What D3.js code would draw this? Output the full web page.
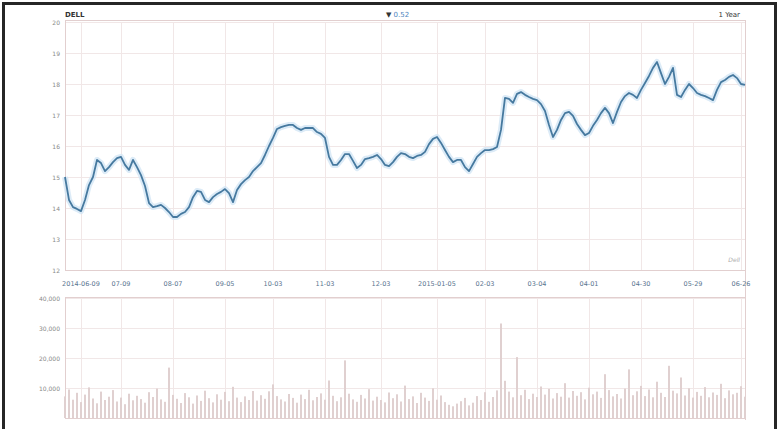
<!DOCTYPE html>
<html><head><meta charset="utf-8">
<script src="https://cdn.jsdelivr.net/npm/d3@7"></script>
<style>body{margin:0;background:#fff}svg{display:block;font-family:"DejaVu Sans",sans-serif}</style>
</head><body><svg id="c" width="780" height="429"></svg>
<script>
const ticker = "DELL";
const changeText = "0.52";
const rangeText = "1 Year";
const prices = [15.00,14.26,14.03,13.97,13.90,14.26,14.74,15.00,15.55,15.45,15.19,15.32,15.48,15.61,15.65,15.39,15.23,15.55,15.32,15.06,
14.71,14.16,14.03,14.06,14.10,14.00,13.87,13.71,13.71,13.81,13.87,14.03,14.35,14.55,14.52,14.26,14.19,14.35,14.45,14.52,
14.61,14.48,14.19,14.58,14.77,14.90,15.00,15.19,15.32,15.45,15.71,16.00,16.26,16.55,16.61,16.65,16.68,16.68,16.58,16.52,
16.58,16.58,16.58,16.45,16.39,16.26,15.65,15.39,15.39,15.55,15.74,15.74,15.52,15.29,15.39,15.58,15.61,15.65,15.71,15.58,
15.39,15.35,15.48,15.65,15.77,15.74,15.65,15.61,15.68,15.71,15.81,16.06,16.23,16.29,16.10,15.87,15.65,15.48,15.55,15.55,
15.32,15.19,15.42,15.65,15.77,15.87,15.87,15.90,15.97,16.52,17.55,17.52,17.39,17.68,17.74,17.65,17.58,17.52,17.48,17.35,
17.13,16.68,16.29,16.52,16.84,17.06,17.10,16.97,16.71,16.52,16.35,16.42,16.65,16.84,17.06,17.23,17.06,16.74,17.10,17.42,
17.61,17.71,17.65,17.55,17.81,18.03,18.26,18.52,18.71,18.35,18.00,18.23,18.52,17.65,17.58,17.81,18.00,17.87,17.71,17.65,
17.61,17.55,17.48,17.81,18.06,18.13,18.23,18.29,18.19,18.00,17.97];
const volumes = [7.2,9.5,6.1,8.4,5.3,7.8,10.2,6.5,4.9,8.8,6.0,7.1,9.3,5.5,6.8,4.6,8.1,5.9,7.4,6.3,
5.1,8.6,7.0,9.8,6.2,5.4,16.8,7.7,6.4,5.0,8.3,6.9,4.8,7.5,5.7,9.1,6.6,5.2,7.9,6.1,
8.7,5.6,10.4,6.8,5.3,7.2,6.0,9.0,5.8,7.6,6.4,8.9,11.2,7.3,6.2,5.5,8.0,6.7,5.1,7.8,
6.3,9.4,5.9,7.0,8.2,6.1,12.5,7.4,5.6,6.9,19.2,8.1,6.2,5.4,7.7,6.5,9.6,5.8,7.1,6.0,
5.2,8.5,6.6,7.9,5.5,10.8,6.3,7.2,5.0,8.4,6.8,5.7,9.9,6.1,7.5,5.3,4.4,3.9,4.8,5.6,
6.7,4.2,5.1,7.3,6.0,8.6,5.4,7.0,9.2,31.5,12.4,8.8,6.9,20.3,7.6,9.4,6.3,8.1,7.0,10.5,
7.8,9.7,6.5,8.3,7.1,11.6,6.8,9.0,7.4,8.6,6.2,10.1,7.9,8.8,6.7,14.6,9.3,7.2,8.0,6.5,
9.8,16.2,7.6,8.9,10.7,7.3,9.5,6.9,12.1,8.4,7.0,17.4,9.1,8.2,13.5,7.5,9.9,6.8,8.7,7.4,
10.3,6.9,8.5,7.7,11.4,6.6,9.2,7.9,8.4,10.6,7.1];
const dateTickIndex = [4,14,27,40,52,65,79,93,105,118,131,144,157,169];
const dateTickLabels = ["2014-06-09","07-09","08-07","09-05","10-03","11-03","12-03","2015-01-05","02-03","03-04","04-01","04-30","05-29","06-26"];
const priceTicks = [12,13,14,15,16,17,18,19,20];
const volumeTicks = [10,20,30,40];

const svg = d3.select("#c");
const L = 65, R = 745;
const x = d3.scaleLinear().domain([0, prices.length - 1]).range([L, R]);
const y = d3.scaleLinear().domain([12, 20]).range([270, 22]);
const yv = d3.scaleLinear().domain([0, 40]).range([418, 298]);
const gridC = "#f1e7e7", axisC = "#e2cfcf";

svg.append("rect").attr("x", 3.5).attr("y", 3.5).attr("width", 772).attr("height", 450)
  .attr("fill", "none").attr("stroke", "#262626").attr("stroke-width", 3);

svg.append("line").attr("x1", L).attr("x2", R).attr("y1", 20.5).attr("y2", 20.5).attr("stroke", axisC);
svg.append("text").attr("x", L).attr("y", 17).attr("font-size", 7).attr("font-weight", "bold").attr("fill", "#333").text(ticker);
const ch = svg.append("text").attr("x", 386).attr("y", 17).attr("font-size", 7);
ch.append("tspan").attr("fill", "#333").text("▼ ");
ch.append("tspan").attr("fill", "#4d86c0").text(changeText);
svg.append("text").attr("x", 740).attr("y", 17).attr("text-anchor", "end").attr("font-size", 7).attr("fill", "#333").text(rangeText);

const gp = svg.append("g");
gp.selectAll(".h").data(priceTicks).join("line")
  .attr("x1", L).attr("x2", R).attr("y1", d => Math.round(y(d)) + .5).attr("y2", d => Math.round(y(d)) + .5)
  .attr("stroke", gridC);
gp.selectAll(".v").data(dateTickIndex).join("line")
  .attr("x1", d => Math.round(x(d)) + .5).attr("x2", d => Math.round(x(d)) + .5).attr("y1", 22).attr("y2", 270)
  .attr("stroke", gridC);
svg.append("g").selectAll("text").data(priceTicks).join("text")
  .attr("x", 60).attr("y", d => y(d) + 2.5).attr("text-anchor", "end").attr("font-size", 6).attr("fill", "#888")
  .text(d => d);

const gv = svg.append("g");
gv.selectAll(".h").data(volumeTicks).join("line")
  .attr("x1", L).attr("x2", R).attr("y1", d => Math.round(yv(d)) + .5).attr("y2", d => Math.round(yv(d)) + .5)
  .attr("stroke", gridC);
gv.selectAll(".v").data(dateTickIndex).join("line")
  .attr("x1", d => Math.round(x(d)) + .5).attr("x2", d => Math.round(x(d)) + .5).attr("y1", 298).attr("y2", 418)
  .attr("stroke", gridC);
svg.append("g").selectAll("text").data(volumeTicks).join("text")
  .attr("x", 60).attr("y", d => yv(d) + 2.5).attr("text-anchor", "end").attr("font-size", 6).attr("fill", "#888")
  .text(d => d3.format(",")(d * 1000));

svg.append("line").attr("x1", L + .5).attr("x2", L + .5).attr("y1", 20).attr("y2", 270).attr("stroke", axisC);
svg.append("line").attr("x1", L).attr("x2", R).attr("y1", 270.5).attr("y2", 270.5).attr("stroke", axisC);
svg.append("line").attr("x1", R + .5).attr("x2", R + .5).attr("y1", 20).attr("y2", 420).attr("stroke", axisC);
svg.append("line").attr("x1", L + .5).attr("x2", L + .5).attr("y1", 298).attr("y2", 418).attr("stroke", axisC);
svg.append("line").attr("x1", L).attr("x2", R).attr("y1", 297.5).attr("y2", 297.5).attr("stroke", axisC);
svg.append("line").attr("x1", L).attr("x2", R).attr("y1", 418.5).attr("y2", 418.5).attr("stroke", axisC);

svg.append("g").selectAll("text").data(dateTickIndex).join("text")
  .attr("x", d => x(d)).attr("y", 286).attr("text-anchor", "middle").attr("font-size", 6.5).attr("fill", "#5a7590")
  .text((d, i) => dateTickLabels[i]);

svg.append("g").selectAll("rect").data(volumes).join("rect")
  .attr("x", (d, i) => x(i) - 1).attr("width", 2)
  .attr("y", d => yv(d)).attr("height", d => 418 - yv(d))
  .attr("fill", "#e0d0d0");

const line = d3.line().x((d, i) => x(i)).y(d => y(d)).curve(d3.curveLinear);
svg.append("path").datum(prices).attr("d", line).attr("fill", "none")
  .attr("stroke", "#d3e6f5").attr("stroke-width", 6).attr("stroke-linejoin", "round").attr("opacity", 0.8);
svg.append("path").datum(prices).attr("d", line).attr("fill", "none")
  .attr("stroke", "#46799f").attr("stroke-width", 1.8).attr("stroke-linejoin", "round");

svg.append("text").attr("x", 740).attr("y", 262).attr("text-anchor", "end").attr("font-size", 6)
  .attr("font-style", "italic").attr("fill", "#aaa").text("Dell");
</script></body></html>
